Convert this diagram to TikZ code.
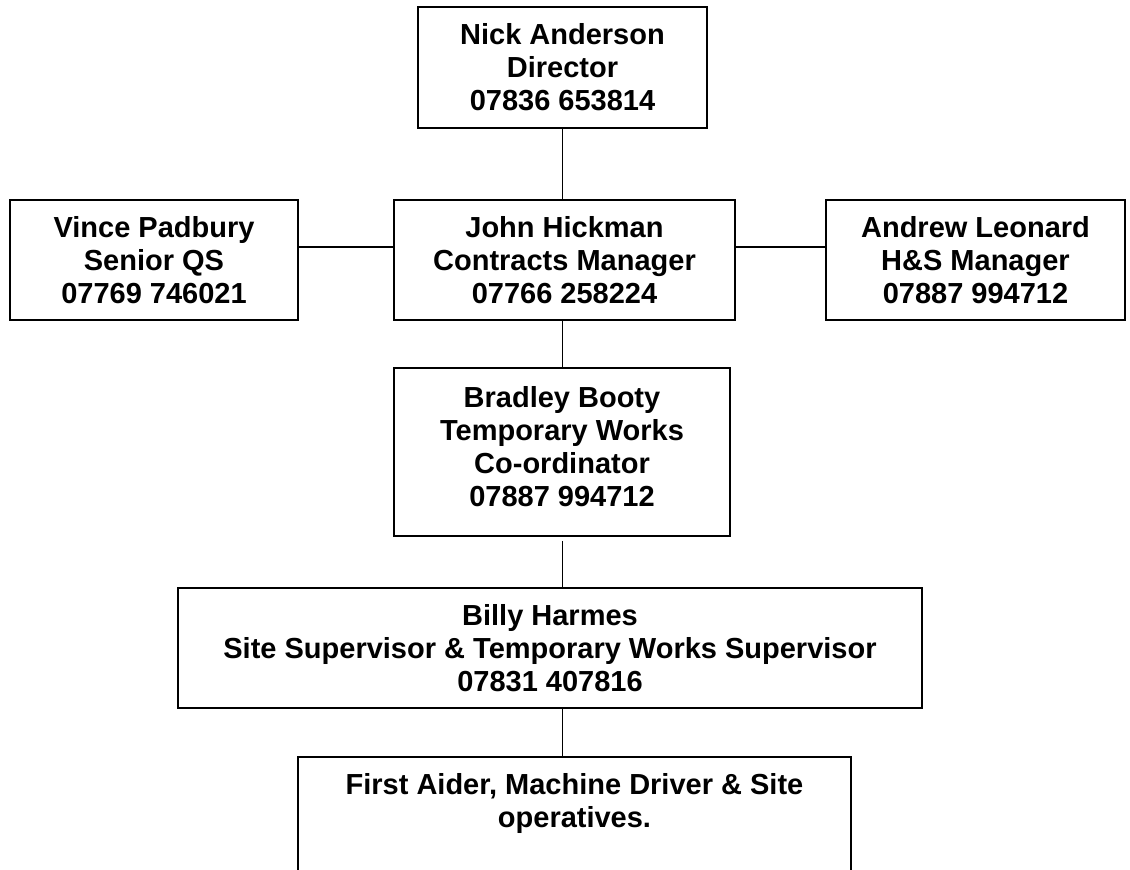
\documentclass[tikz,border=0pt]{standalone}
\usepackage{fontspec}
\setmainfont{Liberation Sans}
\begin{document}
\begin{tikzpicture}[x=0.5pt, y=-0.5pt,
        post/.style={draw=black, line width=1pt, align=center, inner sep=0pt,
            font=\fontsize{14.5pt}{16.5pt}\selectfont\bfseries},
        link/.style={black, line width=0.8pt}]
                        \useasboundingbox (0,0) rectangle (1130,870);
                        \clip (0,0) rectangle (1130,870);
                        \node[post, minimum width=144.5pt, minimum height=60.5pt] (nick) at (562.5,67.5) {Nick Anderson\\Director\\07836 653814};
                        \node[post, minimum width=144pt, minimum height=60pt] (vince) at (154,260) {Vince Padbury\\Senior QS\\07769 746021};
                        \node[post, minimum width=170.5pt, minimum height=60pt] (john) at (564.5,260) {John Hickman\\Contracts Manager\\07766 258224};
                        \node[post, minimum width=149.5pt, minimum height=60pt] (andrew) at (975.5,260) {Andrew Leonard\\H\&S Manager\\07887 994712};
                        \node[post, minimum width=168pt, minimum height=84pt, text depth=5.5pt] (brad) at (562,452) {Bradley Booty\\Temporary Works\\Co-ordinator\\07887 994712};
                        \node[post, minimum width=372pt, minimum height=60pt] (billy) at (550,648) {Billy Harmes\\Site Supervisor \& Temporary Works Supervisor\\07831 407816};
                        \node[post, minimum width=276.5pt, anchor=north, inner ysep=8pt, text depth=60pt] (first) at (574.5,756) {First Aider, Machine Driver \& Site\\operatives.};
                        \draw[link] (nick.south) -- (nick.south |- john.north);
                        \draw[link] (john.south -| nick.south) -- (brad.north -| nick.south);
                        \draw[link, shorten <=2pt] (brad.south -| nick.south) -- (billy.north -| nick.south);
                        \draw[link] (billy.south -| nick.south) -- (first.north -| nick.south);
                        \draw[link] ([yshift=6.5pt]vince.east) -- ([yshift=6.5pt]john.west);
                        \draw[link] ([yshift=6.5pt]john.east) -- ([yshift=6.5pt]andrew.west);
                    \end{tikzpicture}
\end{document}
